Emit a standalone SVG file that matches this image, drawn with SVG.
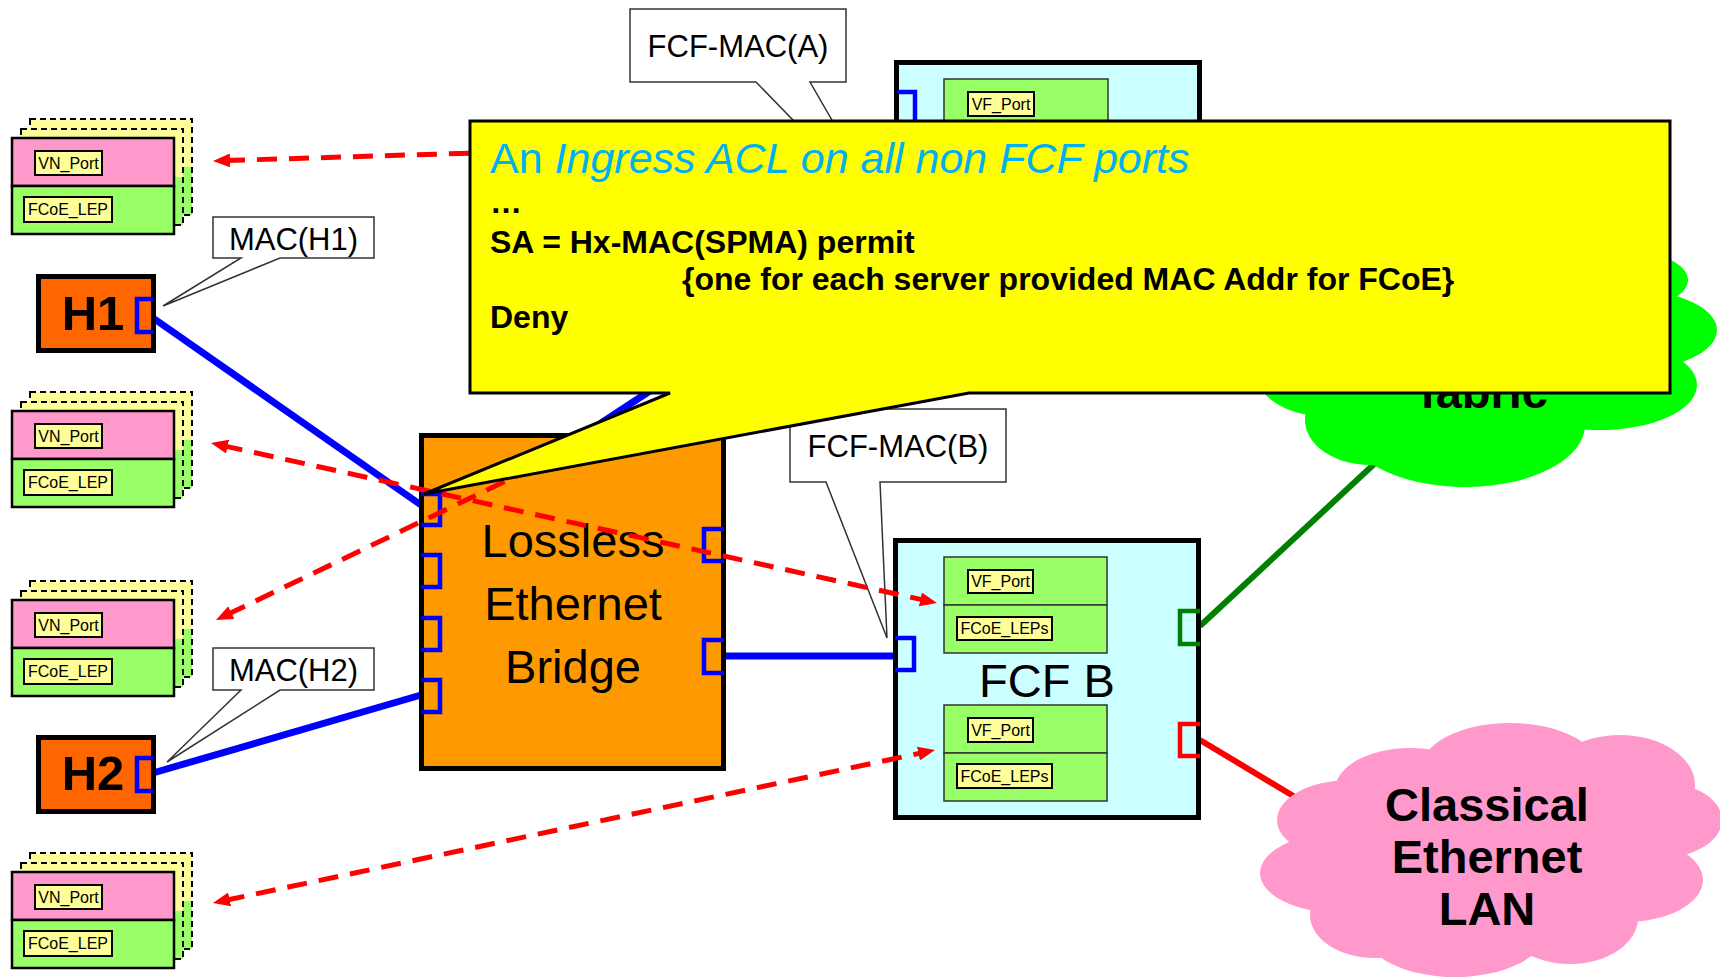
<svg xmlns="http://www.w3.org/2000/svg" width="1720" height="978" viewBox="0 0 1720 978">
  <defs>
    <style>
      text { font-family: "Liberation Sans", Arial, sans-serif; }
      .lbl { font-size: 16px; text-anchor: middle; fill: #000; }
      .lblbox { fill: #ffff99; stroke: #000; stroke-width: 2; }
      .pink { fill: #ff99cc; stroke: #000; stroke-width: 2.5; }
      .grn { fill: #99ff66; stroke: #000; stroke-width: 2.5; }
      .bkY { fill: #ffff99; }
      .bkG { fill: #99ff66; }
      .bkEdge { fill: none; stroke: #000; stroke-width: 2; stroke-dasharray: 6 4; }
      .host { fill: #ff6600; stroke: #000; stroke-width: 5; }
      .hostTxt { font-size: 49px; font-weight: bold; text-anchor: middle; }
      .port { fill: none; stroke: #0000ff; stroke-width: 4.5; }
      .link { stroke: #0000ff; stroke-width: 7; fill: none; }
      .fcf { fill: #ccffff; stroke: #000; stroke-width: 5; }
      .inner { fill: #99ff66; stroke: #333; stroke-width: 1.5; }
      .callout { fill: #fff; stroke: #333; stroke-width: 1.5; }
      .callTxt { font-size: 31px; text-anchor: middle; }
      .flow { fill: none; stroke: #ff0000; stroke-width: 5; stroke-dasharray: 20 12; }
      .big { font-size: 47px; text-anchor: middle; }
      .cloudTxt { font-size: 47px; font-weight: bold; text-anchor: middle; }
      .acl { font-size: 32px; font-weight: bold; fill: #000; }
    </style>
    <marker id="ah" viewBox="0 -8 18 16" markerWidth="18" markerHeight="16" refX="5" refY="0" orient="auto-start-reverse" markerUnits="userSpaceOnUse">
      <path d="M0,-7 L17,0 L0,7 Z" fill="#ff0000"/>
    </marker>
  </defs>

  <rect width="1720" height="978" fill="#fff"/>

  <!-- links to the clouds (drawn under the clouds) -->
  <g id="cloud-links">
    <line x1="1200" y1="626" x2="1400" y2="440" stroke="#008000" stroke-width="6"/>
    <line x1="1200" y1="740" x2="1330" y2="818" stroke="#ff0000" stroke-width="6"/>
  </g>

  <!-- fabric cloud -->
  <g id="fabric-cloud" fill="#00ff00">
    <ellipse cx="1480" cy="320" rx="190" ry="85"/>
    <ellipse cx="1620" cy="280" rx="68" ry="30"/>
    <ellipse cx="1630" cy="330" rx="87" ry="40"/>
    <ellipse cx="1600" cy="385" rx="97" ry="45"/>
    <ellipse cx="1465" cy="425" rx="120" ry="62"/>
    <ellipse cx="1370" cy="420" rx="65" ry="45"/>
    <ellipse cx="1330" cy="375" rx="73" ry="42"/>
    <text class="cloudTxt" x="1484" y="408" fill="#000">fabric</text>
  </g>

  <!-- classical ethernet cloud -->
  <g id="lan-cloud" fill="#ff99cc">
    <ellipse cx="1490" cy="850" rx="190" ry="90"/>
    <ellipse cx="1510" cy="770" rx="90" ry="47"/>
    <ellipse cx="1620" cy="785" rx="75" ry="50"/>
    <ellipse cx="1660" cy="820" rx="62" ry="38"/>
    <ellipse cx="1625" cy="880" rx="78" ry="42"/>
    <ellipse cx="1570" cy="918" rx="68" ry="46"/>
    <ellipse cx="1455" cy="932" rx="90" ry="45"/>
    <ellipse cx="1375" cy="915" rx="65" ry="43"/>
    <ellipse cx="1340" cy="873" rx="80" ry="40"/>
    <ellipse cx="1350" cy="820" rx="73" ry="40"/>
    <ellipse cx="1410" cy="790" rx="75" ry="42"/>
    <text class="cloudTxt" x="1487" y="821" fill="#000">Classical</text>
    <text class="cloudTxt" x="1487" y="873" fill="#000">Ethernet</text>
    <text class="cloudTxt" x="1487" y="925" fill="#000">LAN</text>
  </g>

  <!-- server-side VN_Port stacks -->
  <g id="vn-stack-1" transform="translate(0,138)">
    <rect class="bkY" x="30" y="-19" width="162" height="48"/>
    <rect class="bkG" x="30" y="29" width="162" height="48"/>
    <rect class="bkEdge" x="30" y="-19" width="162" height="96"/>
    <rect class="bkY" x="21" y="-9" width="162" height="48"/>
    <rect class="bkG" x="21" y="39" width="162" height="48"/>
    <rect class="bkEdge" x="21" y="-9" width="162" height="96"/>
    <rect class="pink" x="12" y="0" width="162" height="48"/>
    <rect class="grn" x="12" y="48" width="162" height="48"/>
    <rect class="lblbox" x="35" y="13" width="67" height="24"/>
    <text class="lbl" x="68.5" y="31">VN_Port</text>
    <rect class="lblbox" x="24" y="59" width="88" height="25"/>
    <text class="lbl" x="68" y="77">FCoE_LEP</text>
  </g>
  <g id="vn-stack-2" transform="translate(0,411)">
    <rect class="bkY" x="30" y="-19" width="162" height="48"/>
    <rect class="bkG" x="30" y="29" width="162" height="48"/>
    <rect class="bkEdge" x="30" y="-19" width="162" height="96"/>
    <rect class="bkY" x="21" y="-9" width="162" height="48"/>
    <rect class="bkG" x="21" y="39" width="162" height="48"/>
    <rect class="bkEdge" x="21" y="-9" width="162" height="96"/>
    <rect class="pink" x="12" y="0" width="162" height="48"/>
    <rect class="grn" x="12" y="48" width="162" height="48"/>
    <rect class="lblbox" x="35" y="13" width="67" height="24"/>
    <text class="lbl" x="68.5" y="31">VN_Port</text>
    <rect class="lblbox" x="24" y="59" width="88" height="25"/>
    <text class="lbl" x="68" y="77">FCoE_LEP</text>
  </g>
  <g id="vn-stack-3" transform="translate(0,600)">
    <rect class="bkY" x="30" y="-19" width="162" height="48"/>
    <rect class="bkG" x="30" y="29" width="162" height="48"/>
    <rect class="bkEdge" x="30" y="-19" width="162" height="96"/>
    <rect class="bkY" x="21" y="-9" width="162" height="48"/>
    <rect class="bkG" x="21" y="39" width="162" height="48"/>
    <rect class="bkEdge" x="21" y="-9" width="162" height="96"/>
    <rect class="pink" x="12" y="0" width="162" height="48"/>
    <rect class="grn" x="12" y="48" width="162" height="48"/>
    <rect class="lblbox" x="35" y="13" width="67" height="24"/>
    <text class="lbl" x="68.5" y="31">VN_Port</text>
    <rect class="lblbox" x="24" y="59" width="88" height="25"/>
    <text class="lbl" x="68" y="77">FCoE_LEP</text>
  </g>
  <g id="vn-stack-4" transform="translate(0,872)">
    <rect class="bkY" x="30" y="-19" width="162" height="48"/>
    <rect class="bkG" x="30" y="29" width="162" height="48"/>
    <rect class="bkEdge" x="30" y="-19" width="162" height="96"/>
    <rect class="bkY" x="21" y="-9" width="162" height="48"/>
    <rect class="bkG" x="21" y="39" width="162" height="48"/>
    <rect class="bkEdge" x="21" y="-9" width="162" height="96"/>
    <rect class="pink" x="12" y="0" width="162" height="48"/>
    <rect class="grn" x="12" y="48" width="162" height="48"/>
    <rect class="lblbox" x="35" y="13" width="67" height="24"/>
    <text class="lbl" x="68.5" y="31">VN_Port</text>
    <rect class="lblbox" x="24" y="59" width="88" height="25"/>
    <text class="lbl" x="68" y="77">FCoE_LEP</text>
  </g>

  <!-- ethernet links -->
  <g id="links">
    <line class="link" x1="153" y1="318" x2="421" y2="505"/>
    <line class="link" x1="153" y1="773" x2="421" y2="695"/>
    <line class="link" x1="560" y1="450" x2="720" y2="345"/>
    <line class="link" x1="724" y1="656" x2="895" y2="656" stroke-width="6"/>
  </g>

  <!-- hosts -->
  <g id="host-h1">
    <rect class="host" x="38.5" y="276.5" width="115" height="74"/>
    <text class="hostTxt" x="93" y="330">H1</text>
    <path class="port" d="M153,299 H137 V332 H153"/>
  </g>
  <g id="host-h2">
    <rect class="host" x="38.5" y="737.5" width="115" height="74"/>
    <text class="hostTxt" x="93" y="790">H2</text>
    <path class="port" d="M153,758 H137 V791 H153"/>
  </g>

  <!-- lossless ethernet bridge -->
  <g id="bridge">
    <rect x="421.5" y="435.5" width="302" height="333" fill="#ff9900" stroke="#000" stroke-width="5"/>
    <path class="port" d="M421,494 H440 V525 H421"/>
    <path class="port" d="M421,555 H440 V587 H421"/>
    <path class="port" d="M421,618 H440 V650 H421"/>
    <path class="port" d="M421,680 H440 V712 H421"/>
    <path class="port" d="M724,529 H704 V561 H724"/>
    <path class="port" d="M724,640 H704 V673 H724"/>
    <text class="big" x="573" y="557">Lossless</text>
    <text class="big" x="573" y="620">Ethernet</text>
    <text class="big" x="573" y="683">Bridge</text>
  </g>

  <!-- FCF A (mostly behind the ACL note) -->
  <g id="fcf-a">
    <rect class="fcf" x="896.5" y="62.5" width="303" height="300"/>
    <path class="port" d="M897,92 H915 V135 H897"/>
    <rect class="inner" x="944" y="79" width="164" height="96"/>
    <rect class="lblbox" x="968" y="92" width="66" height="24"/>
    <text class="lbl" x="1001" y="110">VF_Port</text>
  </g>

  <!-- FCF B -->
  <g id="fcf-b">
    <rect class="fcf" x="895.5" y="540.5" width="303" height="277"/>
    <path class="port" d="M895,638 H914 V670 H895"/>
    <path d="M1200,611 H1180 V644 H1200" fill="none" stroke="#008000" stroke-width="4.5"/>
    <path d="M1200,724 H1180 V756 H1200" fill="none" stroke="#ff0000" stroke-width="4.5"/>
    <rect class="inner" x="944" y="557" width="163" height="48"/>
    <rect class="inner" x="944" y="605" width="163" height="48"/>
    <rect class="lblbox" x="968" y="570" width="65" height="23"/>
    <text class="lbl" x="1000.5" y="587">VF_Port</text>
    <rect class="lblbox" x="957" y="617" width="95" height="23"/>
    <text class="lbl" x="1004.5" y="634">FCoE_LEPs</text>
    <rect class="inner" x="944" y="705" width="163" height="48"/>
    <rect class="inner" x="944" y="753" width="163" height="48"/>
    <rect class="lblbox" x="968" y="718" width="65" height="24"/>
    <text class="lbl" x="1000.5" y="736">VF_Port</text>
    <rect class="lblbox" x="957" y="764" width="95" height="24"/>
    <text class="lbl" x="1004.5" y="782">FCoE_LEPs</text>
    <text x="1047" y="697" font-size="47" text-anchor="middle">FCF B</text>
  </g>

  <!-- MAC address callouts -->
  <g id="mac-h1">
    <path class="callout" d="M213,217 H374 V258 H280 L163,306 L241,258 H213 Z"/>
    <text class="callTxt" x="293.5" y="250">MAC(H1)</text>
  </g>
  <g id="mac-h2">
    <path class="callout" d="M213,648 H374 V690 H280 L167,762 L241,690 H213 Z"/>
    <text class="callTxt" x="293.5" y="681">MAC(H2)</text>
  </g>
  <g id="fcf-mac-a">
    <path class="callout" d="M630,9 H846 V82 H810 L889,219 L756,82 H630 Z"/>
    <text class="callTxt" x="738" y="57">FCF-MAC(A)</text>
  </g>
  <g id="fcf-mac-b">
    <path class="callout" d="M790,409 H1006 V482 H880 L887,638 L826,482 H790 Z"/>
    <text class="callTxt" x="898" y="457">FCF-MAC(B)</text>
  </g>

  <!-- FIP / FCoE flows -->
  <g id="flows">
    <line class="flow" x1="225" y1="160.6" x2="900" y2="140" marker-start="url(#ah)"/>
    <line class="flow" x1="222.7" y1="445.6" x2="925.3" y2="600.4" marker-start="url(#ah)" marker-end="url(#ah)"/>
    <line class="flow" x1="226.8" y1="614.8" x2="760" y2="359" marker-start="url(#ah)"/>
    <line class="flow" x1="224.7" y1="900.5" x2="923.3" y2="752.5" marker-start="url(#ah)" marker-end="url(#ah)"/>
  </g>

  <!-- ACL note -->
  <g id="acl-note">
    <path d="M470,121 H1670 V393 H969 L424,494 L670,393 H470 Z" fill="#ffff00" stroke="#000" stroke-width="3"/>
    <text x="490" y="173" font-size="43" fill="#00b0f0">An <tspan font-style="italic">Ingress ACL on all non FCF ports</tspan></text>
    <text class="acl" x="490" y="213">…</text>
    <text class="acl" x="490" y="253">SA = Hx-MAC(SPMA) permit</text>
    <text class="acl" x="682" y="290">{one for each server provided MAC Addr for FCoE}</text>
    <text class="acl" x="490" y="328">Deny</text>
  </g>
</svg>
